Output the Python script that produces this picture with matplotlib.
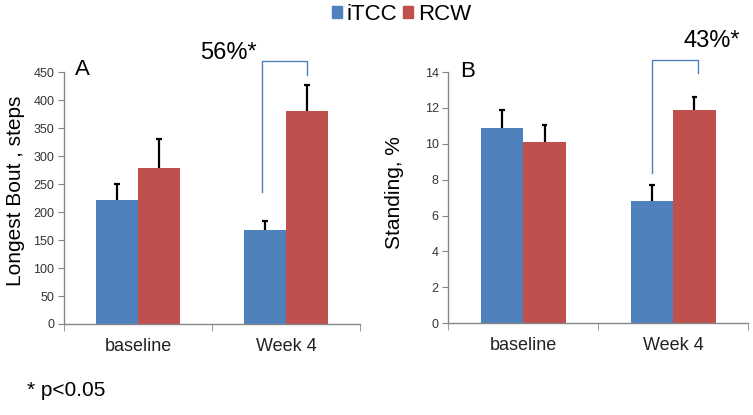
import matplotlib
matplotlib.use('Agg')
import matplotlib.pyplot as plt
from matplotlib.patches import Patch
import numpy as np

plt.rcParams['font.family'] = ['Liberation Sans', 'DejaVu Sans']

# data
categories = ['baseline', 'Week 4']
groups = ['iTCC', 'RCW']

bout_itcc = [222, 168]
bout_rcw = [279, 381]
bout_itcc_err = [28, 17]
bout_rcw_err = [52, 47]

stand_itcc = [10.9, 6.8]
stand_rcw = [10.1, 11.9]
stand_itcc_err = [1.0, 0.9]
stand_rcw_err = [0.95, 0.7]

blue = '#4F81BD'
red = '#C0504D'
axis_gray = '#868686'

fig = plt.figure(figsize=(7.53, 4.15), dpi=100)
axA = fig.add_axes([0.085, 0.2193, 0.393, 0.6065])
axB = fig.add_axes([0.5954, 0.221, 0.398, 0.6055])

x = np.arange(len(categories))
w = 0.284
cap = 0.018


def upper_errbars(ax, xs, vals, errs):
    # Excel style: only the upper half with a cap at the top
    tops = np.array(vals) + np.array(errs)
    ax.vlines(xs, vals, tops, color='black', lw=1.6, zorder=3)
    ax.hlines(tops, xs - cap, xs + cap, color='black', lw=1.6, zorder=3)


def draw_panel(ax, v1, v2, e1, e2, ymax, ystep, ylabel):
    ax.bar(x - w / 2, v1, w, color=blue, zorder=2)
    ax.bar(x + w / 2, v2, w, color=red, zorder=2)
    upper_errbars(ax, x - w / 2, v1, e1)
    upper_errbars(ax, x + w / 2, v2, e2)
    ax.set_xlim(-0.5, len(categories) - 0.5)
    ax.set_ylim(0, ymax)
    ax.set_yticks(np.arange(0, ymax + ystep / 2, ystep))
    ax.set_xticks(x)
    ax.set_xticklabels(categories, fontsize=13)
    ax.set_xticks(np.arange(-0.5, len(categories), 1.0), minor=True)
    ax.tick_params(axis='x', which='major', length=0, pad=10, colors='#222222')
    ax.tick_params(axis='x', which='minor', length=5, direction='out', color=axis_gray)
    ax.tick_params(axis='y', length=4, direction='out', color=axis_gray,
                   labelsize=9, labelcolor='#333333', pad=3)
    for s in ['top', 'right']:
        ax.spines[s].set_visible(False)
    for s in ['left', 'bottom']:
        ax.spines[s].set_color(axis_gray)
        ax.spines[s].set_linewidth(1)
    ax.set_ylabel(ylabel, fontsize=15)


draw_panel(axA, bout_itcc, bout_rcw, bout_itcc_err, bout_rcw_err, 450, 50,
           'Longest Bout , steps')
draw_panel(axB, stand_itcc, stand_rcw, stand_itcc_err, stand_rcw_err, 14, 2,
           'Standing, %')
axA.yaxis.set_label_coords(-0.132, 0.53)
axB.yaxis.set_label_coords(-0.148, 0.52)

axA.text(0.061, 1.01, 'A', transform=axA.transAxes, fontsize=16, va='center', ha='center')
axB.text(0.064, 1.002, 'B', transform=axB.transAxes, fontsize=16, va='center', ha='center')

# significance brackets
axA.plot([0.835, 0.835, 1.14, 1.14], [236, 471, 471, 446], color=blue, lw=1, clip_on=False)
axA.text(0.608, 484, '56%*', fontsize=17, ha='center', va='center')
axB.plot([0.858, 0.858, 1.169, 1.169], [8.39, 14.67, 14.67, 13.96], color=blue, lw=1, clip_on=False)
axB.text(1.26, 15.7, '43%*', fontsize=17, ha='center', va='center')

handles = [Patch(color=blue, label=groups[0]), Patch(color=red, label=groups[1])]
fig.legend(handles=handles, loc='center', bbox_to_anchor=(0.533, 0.966), ncol=2,
           frameon=False, fontsize=16, handlelength=0.45, handleheight=0.45,
           handletextpad=0.2, columnspacing=0.3, borderpad=0)

fig.text(0.036, 0.06, '* p<0.05', fontsize=15, va='center')

fig.savefig('out.png', dpi=100)
